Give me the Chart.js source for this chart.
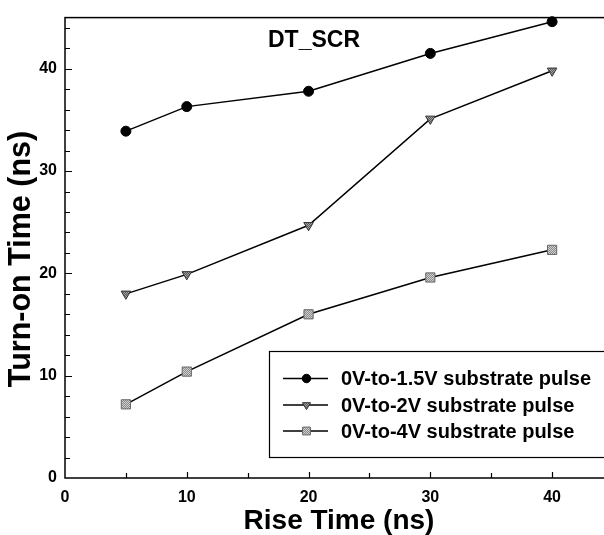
<!DOCTYPE html>
<html><head><meta charset="utf-8">
<script src="https://cdn.jsdelivr.net/npm/chart.js@4/dist/chart.umd.min.js"></script>
<style>
html,body{margin:0;padding:0;overflow:hidden;background:#fff;width:604px;height:535px}
#wrap{width:630px;height:535px}
</style>
</head><body><div id="wrap"><canvas id="c" width="630" height="535"></canvas></div>
<script>
// ---- data ----
const riseTime = [5, 10, 20, 30, 40];
const pulse1p5V = [33.9, 36.3, 37.8, 41.5, 44.6];
const pulse2V = [18.0, 19.9, 24.7, 35.1, 39.8];
const pulse4V = [7.2, 10.4, 16.0, 19.6, 22.3];
const seriesLabels = ['0V-to-1.5V substrate pulse', '0V-to-2V substrate pulse', '0V-to-4V substrate pulse'];
const xTickLabels = [0, 10, 20, 30, 40];
const yTickLabels = [0, 10, 20, 30, 40];
const chartTitle = 'DT_SCR';
const xTitle = 'Rise Time (ns)';
const yTitle = 'Turn-on Time (ns)';

const FONT = "'Liberation Sans', Arial, Helvetica, sans-serif";
const canvas = document.getElementById('c');
const ctx0 = canvas.getContext('2d');
function checker(c1, c2) {
  const p = document.createElement('canvas');
  p.width = 2; p.height = 2;
  const g = p.getContext('2d');
  g.fillStyle = c1; g.fillRect(0, 0, 2, 2);
  g.fillStyle = c2; g.fillRect(0, 0, 1, 1); g.fillRect(1, 1, 1, 1);
  return ctx0.createPattern(p, 'repeat');
}
const triFill = checker('#5a5a5a', '#a0a0a0');
const sqFill = checker('#8a8a8a', '#d0d0d0');

const pts = arr => riseTime.map((x, i) => ({x: x, y: arr[i]}));

const datasets = [
  {label: seriesLabels[0], data: pts(pulse1p5V), borderColor: '#000', borderWidth: 1.5,
   pointStyle: 'circle', pointRadius: 5, pointBackgroundColor: '#000', pointBorderColor: '#000', pointBorderWidth: 1, clip: false},
  {label: seriesLabels[1], data: pts(pulse2V), borderColor: '#000', borderWidth: 1.5,
   pointStyle: 'triangle', pointRotation: 180, pointRadius: 5.5, pointBackgroundColor: triFill, pointBorderColor: '#333', pointBorderWidth: 1, clip: false},
  {label: seriesLabels[2], data: pts(pulse4V), borderColor: '#000', borderWidth: 1.5,
   pointStyle: 'rect', pointRadius: 6.5, pointBackgroundColor: sqFill, pointBorderColor: '#666', pointBorderWidth: 1, clip: false}
];

const decor = {
  id: 'decor',
  beforeDatasetsDraw(chart) {
    const {ctx, chartArea: a, scales: {x, y}} = chart;
    ctx.save();
    ctx.strokeStyle = '#000';
    ctx.lineWidth = 1.5;
    ctx.strokeRect(a.left, a.top, a.right - a.left, a.bottom - a.top);
    ctx.lineWidth = 1.2;
    ctx.beginPath();
    for (let v = 2; v < 45; v += 2) {
      const p = Math.round(y.getPixelForValue(v)) + 0.5;
      const len = v % 10 === 0 ? 7 : 5;
      ctx.moveTo(a.left, p); ctx.lineTo(a.left + len, p);
    }
    for (let v = 5; v < 45; v += 5) {
      const p = Math.round(x.getPixelForValue(v)) + 0.5;
      const len = v % 10 === 0 ? 6 : 5;
      ctx.moveTo(p, a.bottom); ctx.lineTo(p, a.bottom - len);
    }
    ctx.stroke();
    ctx.restore();
  },
  afterDraw(chart) {
    const {ctx, chartArea: a} = chart;
    ctx.save();
    ctx.fillStyle = '#000';
    // chart title inside plot
    ctx.font = 'bold 23px ' + FONT;
    ctx.textAlign = 'center';
    ctx.textBaseline = 'middle';
    ctx.fillText(chartTitle, 314, 41);
    // y axis title
    ctx.save();
    ctx.translate(22, a.bottom - 219);
    ctx.rotate(-Math.PI / 2);
    ctx.font = 'bold 30.5px ' + FONT;
    ctx.textAlign = 'center';
    ctx.textBaseline = 'middle';
    ctx.fillText(yTitle, 0, 0);
    ctx.restore();
    // legend box
    const bx = 269, by = 351, bw = 400, bh = 106;
    ctx.fillStyle = '#fff';
    ctx.fillRect(bx, by, bw, bh);
    ctx.strokeStyle = '#000';
    ctx.lineWidth = 1.2;
    ctx.strokeRect(bx + 0.5, by + 0.5, bw, bh);
    const rows = [378.5, 405, 431];
    chart.data.datasets.forEach((ds, i) => {
      const ry = rows[i];
      ctx.strokeStyle = '#000';
      ctx.lineWidth = 1.5;
      ctx.beginPath(); ctx.moveTo(283, ry); ctx.lineTo(328, ry); ctx.stroke();
      ctx.fillStyle = ds.pointBackgroundColor;
      ctx.strokeStyle = ds.pointBorderColor;
      ctx.lineWidth = ds.pointBorderWidth;
      Chart.helpers.drawPoint(ctx, {pointStyle: ds.pointStyle, rotation: ds.pointRotation || 0,
        radius: ds.pointRadius * 0.85, borderWidth: ds.pointBorderWidth}, 306.5, ry);
      ctx.fillStyle = '#000';
      ctx.font = 'bold 20px ' + FONT;
      ctx.textAlign = 'left';
      ctx.textBaseline = 'middle';
      ctx.fillText(ds.label, 341, ry + 1);
    });
    ctx.restore();
  }
};

new Chart(canvas, {
  type: 'line',
  data: {datasets: datasets},
  plugins: [decor],
  options: {
    responsive: false,
    animation: false,
    layout: {padding: {top: 15, right: 17, left: 0, bottom: 0}},
    plugins: {legend: {display: false}, tooltip: {enabled: false}},
    scales: {
      x: {
        type: 'linear', min: 0, max: 45,
        grid: {display: false, drawTicks: false},
        border: {display: false},
        ticks: {stepSize: 10, autoSkip: false, maxRotation: 0, padding: 10, color: '#000',
          font: {family: FONT, size: 16, weight: 'bold'},
          callback: v => xTickLabels.includes(v) ? String(v) : ''},
        title: {display: true, text: xTitle, color: '#000',
          font: {family: FONT, size: 28, weight: 'bold', lineHeight: 1},
          padding: {top: 1, bottom: 0}},
        afterFit: s => { s.height = 57; }
      },
      y: {
        type: 'linear', min: 0, max: 45,
        grid: {display: false, drawTicks: false},
        border: {display: false},
        ticks: {stepSize: 10, autoSkip: false, padding: 8, color: '#000',
          font: {family: FONT, size: 16, weight: 'bold'},
          callback: v => yTickLabels.includes(v) ? String(v) : ''},
        afterFit: s => { s.width = 65; }
      }
    }
  }
});
</script>
</body></html>
